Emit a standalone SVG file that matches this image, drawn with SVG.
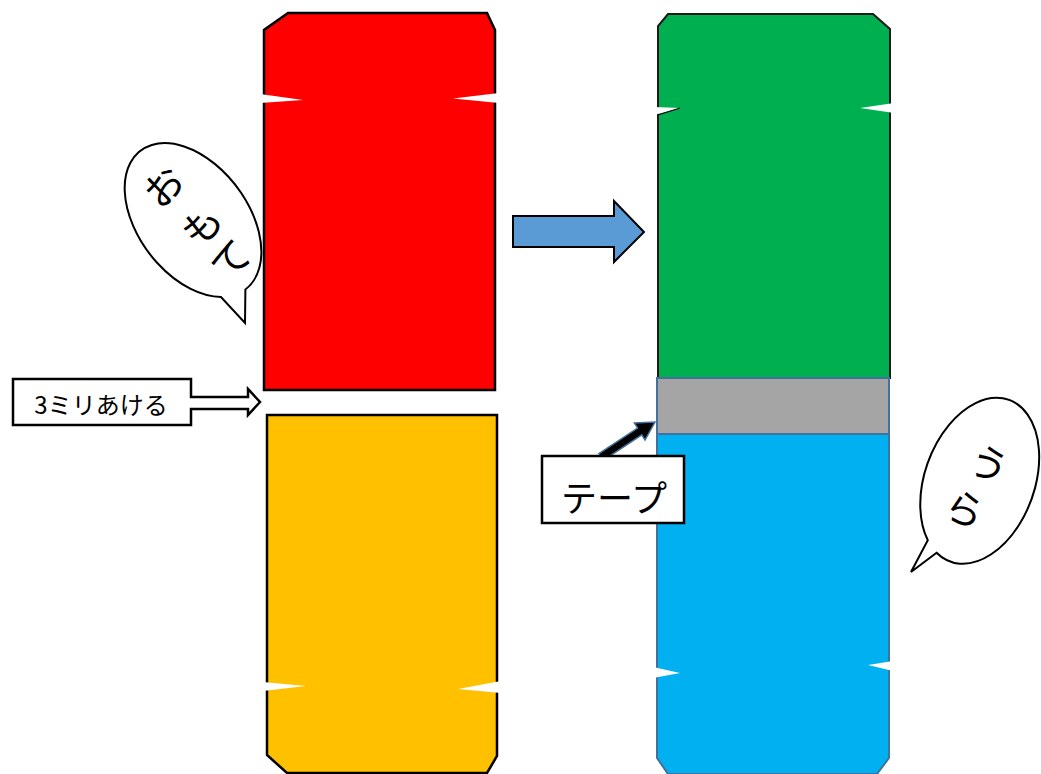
<svg xmlns="http://www.w3.org/2000/svg" width="1041" height="774" viewBox="0 0 1041 774">
<style>
.jp{font-family:"Noto Sans CJK JP","Noto Sans",sans-serif;fill:#000}
.bub{fill:#fff;stroke:#000;stroke-width:2}
.notch{fill:#fff;stroke:none}
.box{fill:#fff;stroke:#000;stroke-width:2.5}
</style>
<rect width="1041" height="774" fill="#fff"/>

<g id="bubble-omote">
<path class="bub" d="M245.4,289.5 L245,323 L221,297 A87 55 53 1 1 245.4,289.5 Z"/>
<text class="jp" font-size="39" text-anchor="middle" dominant-baseline="central" transform="translate(162,185) rotate(-45)">お</text>
<text class="jp" font-size="39" text-anchor="middle" dominant-baseline="central" transform="translate(200,224) rotate(-45)">も</text>
<text class="jp" font-size="39" text-anchor="middle" dominant-baseline="central" transform="translate(229,258) rotate(-45)">て</text>
</g>

<g id="bubble-ura">
<path class="bub" d="M936.6,552.7 L911,572 L927.8,540.2 A86 55 110 1 1 936.6,552.7 Z"/>
<text class="jp" font-size="39" text-anchor="middle" dominant-baseline="central" transform="translate(990,462) rotate(27)">う</text>
<text class="jp" font-size="39" text-anchor="middle" dominant-baseline="central" transform="translate(966,507) rotate(27)">ら</text>
</g>

<g id="red-piece">
<path d="M288,13 H487 L495,30 V390 H264 V30 Z" fill="#ff0000" stroke="#000" stroke-width="2.5"/>
<polygon class="notch" points="260,94 303,100 260,103"/>
<polygon class="notch" points="499,93 453,98.5 499,103"/>
</g>

<g id="yellow-piece">
<path d="M267,415 H497 V756 L487,773 H287 L267,755 Z" fill="#ffc000" stroke="#000" stroke-width="2.5"/>
<polygon class="notch" points="263,682 306,686 263,691"/>
<polygon class="notch" points="501,681 458,689 501,693"/>
</g>

<g id="green-piece">
<path d="M668,14 H873 L890,29 V378 H658 V26 Z" fill="#00b050" stroke="#1a1a1a" stroke-width="2"/>
<polygon class="notch" points="654,107 680,108 654,115"/>
<line x1="658" y1="115" x2="680" y2="108" stroke="#000" stroke-width="1.2"/>
<polygon class="notch" points="894,103 860,108 894,113"/>
</g>

<g id="blue-piece">
<path d="M657,434 H889 V758 L877,774 H668 L657,758 Z" fill="#00b0f0" stroke="#41719c" stroke-width="2"/>
<polygon class="notch" points="653,667 680,673 653,678"/>
<polygon class="notch" points="893,661 868,665 893,671"/>
</g>

<g id="tape">
<rect x="657" y="378" width="232" height="56" fill="#a5a5a5" stroke="#41719c" stroke-width="2"/>
</g>

<g id="connectors">
<polygon points="513,216 614,216 614,201 644,232 614,262 614,247 513,247" fill="#5b9bd5" stroke="#000" stroke-width="2"/>
<polygon points="598.9,453.6 637.6,428.1 634.4,423 655,422 645,440 641.8,434.9 603.1,460.4" fill="#000" stroke="#41719c" stroke-width="1.5"/>
</g>

<g id="callout-3mm">
<path class="box" stroke-width="2" d="M13,379 H191 V397 H248 V389 L260,402 L248,415 V409 H191 V425 H13 Z"/>
<text class="jp" x="101" y="403" font-size="24" text-anchor="middle" dominant-baseline="central">3ミリあける</text>
</g>

<g id="label-tape">
<rect class="box" x="542" y="456" width="142" height="67"/>
<text class="jp" x="614" y="496" font-size="36" text-anchor="middle" dominant-baseline="central">テープ</text>
</g>
</svg>
